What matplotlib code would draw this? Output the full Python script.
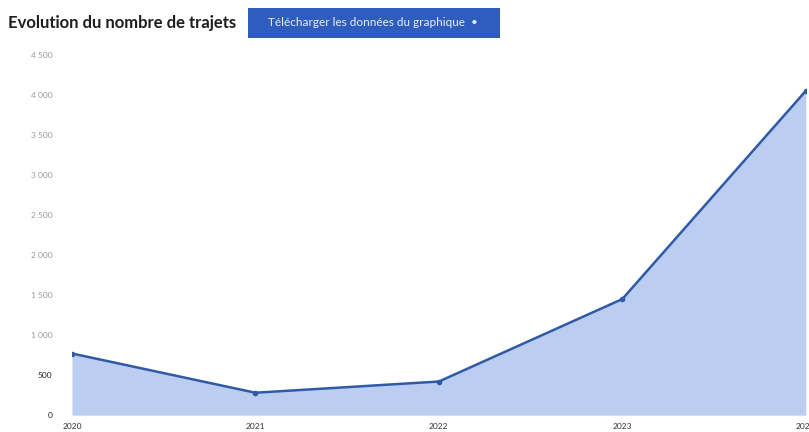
import matplotlib.pyplot as plt
from matplotlib.patches import Rectangle

years = [2020, 2021, 2022, 2023, 2024]
trajets = [770, 280, 420, 1450, 4050]
y_ticks = [0, 500, 1000, 1500, 2000, 2500, 3000, 3500, 4000, 4500]
y_labels = ['0', '500', '1 000', '1 500', '2 000', '2 500', '3 000', '3 500', '4 000', '4 500']

fig = plt.figure(figsize=(8.09, 4.32), dpi=100)
ax = fig.add_axes([0.089, 0.039, 0.907, 0.834])

ax.fill_between(years, trajets, 0, color='#bccdf2', linewidth=0)
ax.plot(years, trajets, color='#2f5aa6', linewidth=1.8, marker='o', markersize=3)

ax.set_xlim(2020, 2024)
ax.set_ylim(0, 4500)
ax.set_xticks(years)
ax.set_xticklabels([str(y) for y in years], fontsize=6, color='#333333', family='Lato')
ax.set_yticks(y_ticks)
ax.set_yticklabels(y_labels, fontsize=6, color='#999999', family='Lato')
ax.get_yticklabels()[0].set_color('#222222')
ax.get_yticklabels()[1].set_color('#222222')
ax.tick_params(length=0)
ax.tick_params(axis='x', pad=6)
ax.tick_params(axis='y', pad=14)
for s in ax.spines.values():
    s.set_visible(False)

# title and download button
fig.text(0.010, 0.947, 'Evolution du nombre de trajets', fontsize=12, fontweight='bold',
         color='#1e1e1e', family='Lato', va='center')
fig.patches.append(Rectangle((248 / 809, 1 - 38 / 432), 252 / 809, 30 / 432,
                             transform=fig.transFigure, facecolor='#2f5dbf',
                             edgecolor='none'))
fig.text(268 / 809, 0.947, 'Télécharger les données du graphique  •', fontsize=8.5,
         color='#e8eefc', family='Lato', va='center')

fig.savefig('out.png', dpi=100)
